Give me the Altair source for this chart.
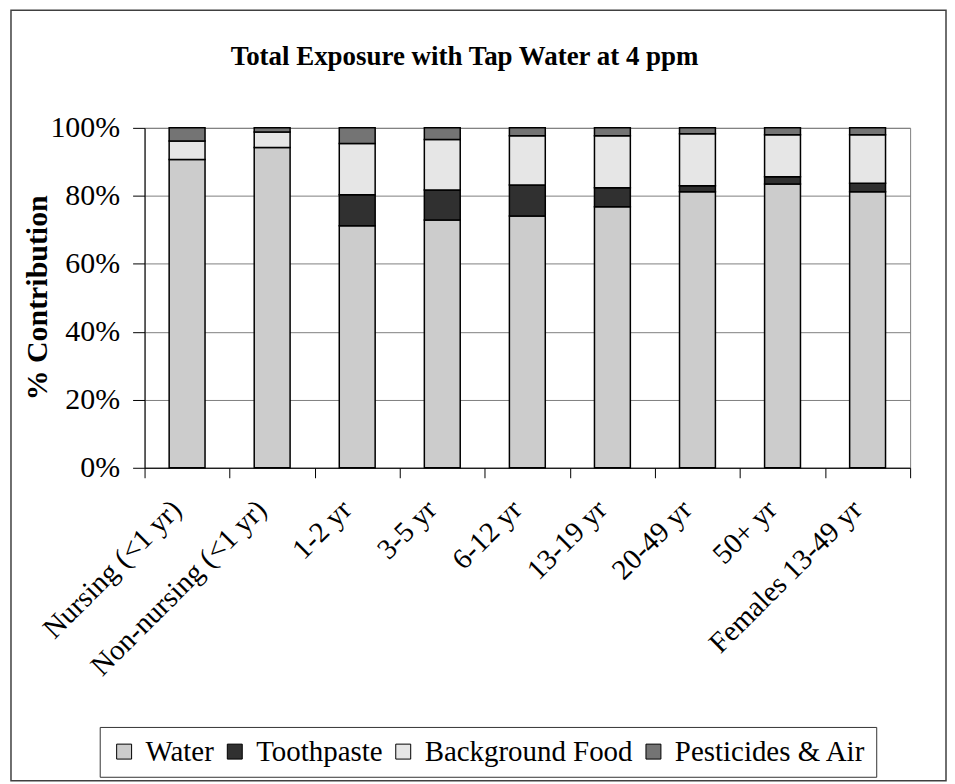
import altair as alt
import pandas as pd

categories = ["Nursing (<1 yr)", "Non-nursing (<1 yr)", "1-2 yr", "3-5 yr", "6-12 yr",
              "13-19 yr", "20-49 yr", "50+ yr", "Females 13-49 yr"]
series = ["Water", "Toothpaste", "Background Food", "Pesticides & Air"]

water = [90.7, 94.2, 71.2, 72.9, 74.1, 76.8, 81.2, 83.5, 81.2]
toothpaste = [0.0, 0.0, 9.1, 8.8, 9.1, 5.6, 1.8, 2.1, 2.5]
background_food = [5.4, 4.6, 15.1, 14.9, 14.5, 15.3, 15.3, 12.4, 14.3]
pesticides_air = [3.9, 1.2, 4.6, 3.4, 2.3, 2.3, 1.7, 2.0, 2.0]

fills = ["#cccccc", "#303030", "#e6e6e6", "#747474"]
y_ticks = [0, 20, 40, 60, 80, 100]
title_text = "Total Exposure with Tap Water at 4 ppm"

rows = []
for i, c in enumerate(categories):
    for j, (s, vals) in enumerate(zip(series, [water, toothpaste, background_food, pesticides_air])):
        rows.append({"group": c, "source": s, "value": vals[i], "order": j})
df = pd.DataFrame(rows)

FONT = "Liberation Serif"
W, H = 768, 341

bars = alt.Chart(df).transform_filter("datum.value > 0").mark_bar(
    size=36, stroke="black", strokeWidth=1.5
).encode(
    x=alt.X("group:N", sort=categories,
            scale=alt.Scale(paddingInner=0, paddingOuter=0),
            axis=alt.Axis(title=None, labelAngle=-45, labelAlign="right", labelBaseline="middle",
                          labelFont=FONT, labelFontSize=29, labelColor="black",
                          labelPadding=27, labelOffset=-11,
                          tickSize=10, tickColor="black", domainColor="black", tickBand="extent",
                          labelLimit=0, labelOverlap=False, grid=False)),
    y=alt.Y("value:Q", stack="zero",
            scale=alt.Scale(domain=[0, 100], nice=False),
            axis=alt.Axis(title="% Contribution", values=y_ticks, labelExpr="datum.value + '%'",
                          labelFont=FONT, labelFontSize=30, labelColor="black",
                          tickSize=12, labelPadding=13, tickColor="black", domainColor="black",
                          gridColor="#808080", gridWidth=1,
                          titleFont=FONT, titleFontSize=30, titleFontWeight="bold", titleColor="black",
                          titleX=-107, titleY=170, titleAngle=-90, titleAlign="center",
                          titleBaseline="middle")),
    color=alt.Color("source:N", scale=alt.Scale(domain=series, range=fills),
                    legend=alt.Legend(title=None, orient="none", legendX=-45, legendY=601,
                                      direction="horizontal", columns=4, symbolType="square",
                                      symbolSize=225, labelFont=FONT, labelFontSize=29,
                                      labelColor="black", labelOffset=7, columnPadding=6,
                                      padding=10, strokeColor="#333333",
                                      symbolStrokeColor="black", symbolStrokeWidth=1,
                                      labelLimit=0)),
    order=alt.Order("order:Q"),
)

frame = alt.Chart(pd.DataFrame({"k": [0]})).mark_rect(
    fill="white", fillOpacity=0, stroke="#404040", strokeWidth=1.5
).encode(x=alt.value(-134), x2=alt.value(804), y=alt.value(-118), y2=alt.value(655))

title = alt.Chart(pd.DataFrame({"t": [title_text]})).mark_text(
    font=FONT, fontSize=27, fontWeight="bold", align="center", baseline="middle", color="black"
).encode(text="t:N", x=alt.value(321), y=alt.value(-71))

chart = alt.layer(frame, bars, title).properties(
    width=W, height=H,
    padding={"left": 2, "top": 0, "right": 0, "bottom": 0},
).configure_view(stroke="#808080", strokeWidth=1)

chart.save("out.html", embed_options={"renderer": "svg", "actions": False})
